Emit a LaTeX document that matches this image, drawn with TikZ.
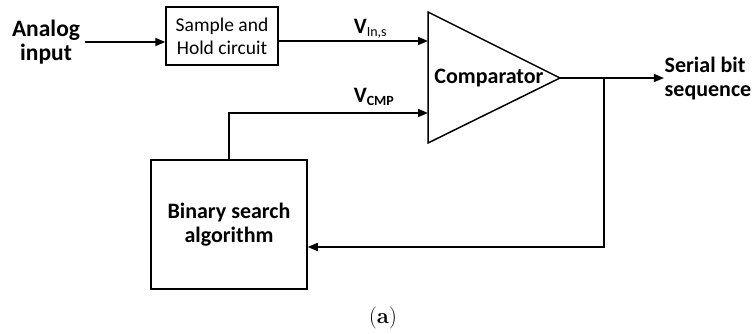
\documentclass[tikz,border=0pt]{standalone}
\usepackage{fontspec}
\setsansfont{Carlito}
\usetikzlibrary{arrows.meta,calc}
\begin{document}
\begin{tikzpicture}[x=1pt,y=-1pt,
  line width=1.5pt,
  arr/.style={-{Triangle[length=10pt,width=8pt]}},
  lbl/.style={font=\sffamily\bfseries\fontsize{22}{24}\selectfont,align=center,inner sep=0pt},
  small/.style={font=\sffamily\fontsize{19.5}{23}\selectfont,align=center,inner sep=0pt},
  blk/.style={draw,rectangle,inner sep=0pt}]
\useasboundingbox (0,0) rectangle (753,333);
% nodes
\node[lbl,font=\sffamily\bfseries\fontsize{23.5}{24}\selectfont] (analog) at (46,42) {Analog\\input};
\node[blk,minimum width=112pt,minimum height=58pt] (sh) at (222,36) {};
\node[small] at (sh.center) {Sample and\\Hold circuit};
\node[blk,minimum width=156pt,minimum height=129pt] (bin) at (229,224.5) {};
\node[lbl] at (bin.center) {Binary search\\algorithm};
% comparator triangle
\coordinate (tl) at (428,12);
\coordinate (bl) at (428,143);
\coordinate (tip) at (560,78);
\draw[line join=miter] (tl) -- (tip) -- (bl) -- cycle;
\node[lbl] (cmp) at (489,78) {Comparator};
\coordinate (cin1) at (428,41);
\coordinate (cin2) at (428,113);
\coordinate (j) at (604,78);
\node[lbl,align=left] (serial) at (708,79) {Serial bit\\sequence};
% connectors
\draw[arr] (analog.east -| 85,0) -- (sh.west |- 0,42);
\draw[arr] (sh.east |- cin1) -- (cin1);
\draw[arr] (bin.north) |- (cin2);
\draw[arr] (tip) -- (serial.west |- tip);
\draw[arr] (j) |- (bin.east |- 0,247);
% labels
\node[font=\sffamily\bfseries\fontsize{22}{24}\selectfont,inner sep=0pt,anchor=base west] (vin) at (353,33) {V\textsubscript{\mdseries\fontsize{14}{14}\selectfont In,s}};
\node[font=\sffamily\bfseries\fontsize{22}{24}\selectfont,inner sep=0pt,anchor=base west] (vcmp) at (353,102) {V\textsubscript{\fontsize{14}{14}\selectfont CMP}};
\node[font=\rmfamily\fontsize{22}{24}\selectfont,inner sep=0pt] (cap) at (383,318) {(\textbf{a})};
\end{tikzpicture}
\end{document}
